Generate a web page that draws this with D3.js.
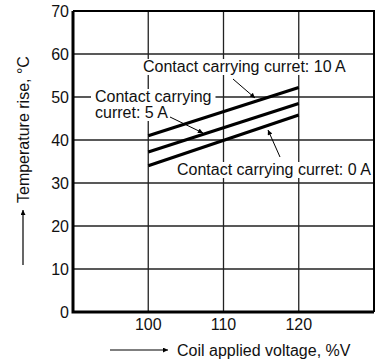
<!DOCTYPE html>
<html>
<head>
<meta charset="utf-8">
<script src="https://cdn.jsdelivr.net/npm/d3@7"></script>
<style>
  body { margin: 0; background: #fff; }
  text { font-family: "Liberation Sans", Arial, sans-serif; fill: #111; }
</style>
</head>
<body>
<script>
// chart values
var voltage = [100, 120]
var series = ["10 A", "5 A", "0 A"]
var rise10 = [41, 52.2]
var rise5 = [37.2, 48.5]
var rise0 = [34, 45.8]
var xTicks = [100, 110, 120]
var yTicks = [0, 10, 20, 30, 40, 50, 60, 70]

var screen = {width: 380, height: 364}
var margins = {top: 11, bottom: 52, left: 73, right: 6}

var svg = d3.select("body")
  .append("svg")
  .attr("width", screen.width)
  .attr("height", screen.height)

var xScale = d3.scaleLinear()
  .domain([90, 130])
  .range([margins.left, screen.width - margins.right])

var yScale = d3.scaleLinear()
  .domain([0, 70])
  .range([screen.height - margins.bottom, margins.top])

var x0 = xScale(90), x1 = xScale(130), y0 = yScale(0), y1 = yScale(70)

// grid
svg.append("g").selectAll("line")
  .data(yTicks.slice(1, -1))
  .enter().append("line")
  .attr("x1", x0).attr("x2", x1)
  .attr("y1", function(d) { return yScale(d) })
  .attr("y2", function(d) { return yScale(d) })
  .attr("stroke", "#222").attr("stroke-width", 1.3)

svg.append("g").selectAll("line")
  .data(xTicks)
  .enter().append("line")
  .attr("y1", y0).attr("y2", y1)
  .attr("x1", function(d) { return xScale(d) })
  .attr("x2", function(d) { return xScale(d) })
  .attr("stroke", "#222").attr("stroke-width", 1.3)

// annotations (text boxes sit over the grid, under the curves)
var labels = [
  {lines: ["Contact carrying curret: 10 A"], x: 143, y: 72},
  {lines: ["Contact carrying", "curret: 5 A"], x: 95, y: 102},
  {lines: ["Contact carrying curret: 0 A"], x: 177, y: 175}
]
var leaders = [
  [[233, 79], [255, 98]],
  [[170, 117], [203, 133]],
  [[280, 157], [268, 130]]
]

var lg = svg.append("g").selectAll("g")
  .data(labels)
  .enter().append("g")

lg.each(function(d) {
  var g = d3.select(this)
  d.lines.forEach(function(s, i) {
    var t = g.append("text")
      .attr("x", d.x).attr("y", d.y + i * 16)
      .style("font-size", "16px")
      .text(s)
    var bb = t.node().getBBox()
    g.insert("rect", "text")
      .attr("x", bb.x - 4).attr("y", bb.y + 1)
      .attr("width", bb.width + 8).attr("height", bb.height - 1)
      .attr("fill", "#fff")
  })
})

// curves
var lineData = [rise10, rise5, rise0].map(function(vals, i) {
  return {name: series[i], pts: voltage.map(function(v, j) { return [v, vals[j]] })}
})

var line = d3.line()
  .x(function(d) { return xScale(d[0]) })
  .y(function(d) { return yScale(d[1]) })

svg.append("g").selectAll("path")
  .data(lineData)
  .enter().append("path")
  .attr("d", function(d) { return line(d.pts) })
  .attr("fill", "none")
  .attr("stroke", "#000")
  .attr("stroke-width", 3.2)

// frame
svg.append("path")
  .attr("d", "M" + x0 + "," + y1 + "H" + x1 + "V" + y0)
  .attr("fill", "none").attr("stroke", "#000").attr("stroke-width", 2)
svg.append("path")
  .attr("d", "M" + x0 + "," + y1 + "V" + y0 + "H" + x1)
  .attr("fill", "none").attr("stroke", "#000").attr("stroke-width", 3)

// tick labels
svg.append("g").selectAll("text")
  .data(yTicks)
  .enter().append("text")
  .attr("x", x0 - 4)
  .attr("y", function(d) { return yScale(d) + 6 })
  .attr("text-anchor", "end")
  .style("font-size", "16px")
  .text(function(d) { return d })

svg.append("g").selectAll("text")
  .data(xTicks)
  .enter().append("text")
  .attr("x", function(d) { return xScale(d) })
  .attr("y", y0 + 18)
  .attr("text-anchor", "middle")
  .style("font-size", "16px")
  .text(function(d) { return d })

// arrow marker
var defs = svg.append("defs")
defs.append("marker")
  .attr("id", "arr")
  .attr("viewBox", "0 0 10 10")
  .attr("refX", 10).attr("refY", 5)
  .attr("markerWidth", 8).attr("markerHeight", 5)
  .attr("markerUnits", "userSpaceOnUse")
  .attr("orient", "auto")
  .append("path").attr("d", "M0,0L10,5L0,10z").attr("fill", "#000")

// leaders
svg.append("g").selectAll("path")
  .data(leaders)
  .enter().append("path")
  .attr("d", function(d) { return "M" + d[0] + "L" + d[1] })
  .attr("stroke", "#000").attr("stroke-width", 1)
  .attr("marker-end", "url(#arr)")

// axis titles
svg.append("line")
  .attr("x1", 110).attr("x2", 168).attr("y1", 350).attr("y2", 350)
  .attr("stroke", "#000").attr("stroke-width", 1.2)
  .attr("marker-end", "url(#arr)")
svg.append("text")
  .attr("x", 177).attr("y", 356)
  .style("font-size", "16px")
  .text("Coil applied voltage, %V")

svg.append("line")
  .attr("x1", 23).attr("x2", 23).attr("y1", 265).attr("y2", 210)
  .attr("stroke", "#000").attr("stroke-width", 1.2)
  .attr("marker-end", "url(#arr)")
svg.append("text")
  .attr("transform", "translate(29,203) rotate(-90)")
  .style("font-size", "16px")
  .text("Temperature rise, \u00B0C")
</script>
</body>
</html>
